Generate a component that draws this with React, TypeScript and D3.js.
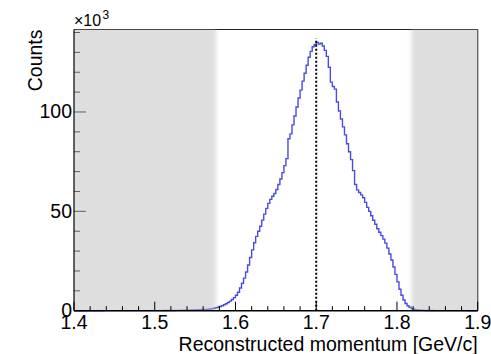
import React from "react";
import * as d3 from "d3";

// Histogram: 200 bins from 1.4 to 1.9 GeV/c, counts in units of 10^3
const xMin = 1.4;
const xMax = 1.9;
const binWidth = 0.0025;
const counts: number[] = [
  0.01,0.01,0.01,0.01,0.01,0.01,0.01,0.01,0.01,0.01,
  0.01,0.01,0.01,0.01,0.01,0.02,0.02,0.02,0.02,0.02,
  0.02,0.02,0.02,0.02,0.02,0.02,0.03,0.03,0.03,0.03,
  0.03,0.03,0.03,0.03,0.03,0.04,0.04,0.04,0.04,0.04,
  0.04,0.05,0.05,0.06,0.07,0.08,0.09,0.10,0.11,0.12,
  0.14,0.16,0.18,0.20,0.22,0.25,0.28,0.31,0.35,0.39,
  0.43,0.48,0.53,0.58,0.63,0.69,0.75,0.85,1.00,1.20,
  1.45,1.75,2.10,2.50,3.00,3.50,4.10,4.80,5.60,6.60,
  7.80,9.30,11.4,13.8,16.4,19.5,23.0,26.8,30.6,34.2,
  37.4,40.0,42.5,45.6,48.6,51.5,54.0,56.0,57.6,59.0,
  61.0,63.5,66.3,69.5,73.0,76.5,86.5,89.0,93.5,98.0,
  102.5,107.0,111.0,115.5,119.5,123.5,127.5,130.5,132.8,134.0,
  135.0,134.2,134.6,133.2,131.0,128.0,122.5,115.0,112.8,111.5,
  105.0,100.5,96.5,92.5,88.5,84.0,80.0,76.0,70.5,63.5,
  60.8,59.5,58.3,56.8,54.5,52.0,50.0,47.8,45.5,43.5,
  41.2,39.5,37.8,36.0,34.0,31.5,28.5,25.5,22.0,18.3,
  14.5,10.8,7.8,5.4,3.6,2.5,1.7,1.1,0.75,0.50,
  0.35,0.26,0.20,0.15,0.12,0.10,0.08,0.07,0.06,0.05,
  0.05,0.04,0.04,0.04,0.03,0.03,0.03,0.03,0.02,0.02,
  0.02,0.02,0.02,0.02,0.02,0.01,0.01,0.01,0.01,0.01,
];
const yMax = 141.5;
const xTickLabels = ["1.4", "1.5", "1.6", "1.7", "1.8", "1.9"];
const yTickLabels = ["0", "50", "100"];
const markerX = 1.7;
const markerTop = 137;
const shadedRegions: [number, number][] = [
  [1.4, 1.576],
  [1.818, 1.9],
];

const W = 491;
const H = 354;
const L = 74, R = 477.7, T = 29.5, B = 310.7;
const FONT = "'Liberation Sans', Arial, Helvetica, sans-serif";

export default function App() {
  const x = d3.scaleLinear().domain([xMin, xMax]).range([L, R]);
  const y = d3.scaleLinear().domain([0, yMax]).range([B, T]);

  const pts: [number, number][] = counts.map((c, i) => [xMin + i * binWidth, c]);
  pts.push([xMax, counts[counts.length - 1]]);
  const line = d3
    .line<[number, number]>()
    .x((d) => x(d[0]))
    .y((d) => y(d[1]))
    .curve(d3.curveStepAfter);

  const xMajor = xTickLabels.map(Number);
  const xMinor = d3.range(0, 26).map((i) => xMin + i * 0.02);
  const yMajor = yTickLabels.map(Number);
  const yMinor = d3.range(0, 15).map((i) => i * 10);

  return (
    <svg width={W} height={H} style={{ position: "absolute", left: 0, top: 0 }}>
      <defs>
        <clipPath id="frameClip">
          <rect x={L} y={T} width={R - L} height={B - T} />
        </clipPath>
        <filter id="soft" x="-10%" y="-10%" width="120%" height="120%">
          <feGaussianBlur stdDeviation="2" />
        </filter>
      </defs>
      <rect x={0} y={0} width={W} height={H} fill="#ffffff" />

      {/* y ticks */}
      {yMinor.map((v) => (
        <line key={"ym" + v} x1={L} x2={L + (v % 50 === 0 ? 12 : 6)} y1={y(v)} y2={y(v)} stroke="#000" strokeWidth={1} />
      ))}
      {/* top & right frame */}
      <line x1={L} x2={R} y1={T} y2={T} stroke="#222" strokeWidth={1.2} />
      <line x1={R} x2={R} y1={T} y2={B} stroke="#222" strokeWidth={1.2} />

      {/* histogram */}
      <path d={line(pts) || ""} fill="none" stroke="#4b4be0" strokeWidth={1.4} />

      {/* marker */}
      <line x1={x(markerX)} x2={x(markerX)} y1={y(0)} y2={y(markerTop)} stroke="#000" strokeWidth={2} strokeDasharray="2,2" />

      {/* shaded regions */}
      <g clipPath="url(#frameClip)">
        {shadedRegions.map(([a, b], i) => (
          <rect
            key={i}
            x={x(a) - (i === 0 ? 6 : 0)}
            y={T - 6}
            width={x(b) - x(a) + 6}
            height={B - T + 12}
            fill="#bdbdbd"
            opacity={0.5}
            filter="url(#soft)"
          />
        ))}
      </g>

      {/* left axis */}
      <line x1={L} x2={L} y1={T} y2={B} stroke="#000" strokeWidth={1.2} />
      {/* bottom axis */}
      <line x1={L} x2={R} y1={B} y2={B} stroke="#000" strokeWidth={1.5} />
      {xMinor.map((v, i) => (
        <line key={"xm" + i} x1={x(v)} x2={x(v)} y1={B} y2={B - (i % 5 === 0 ? 9 : 4.5)} stroke="#000" strokeWidth={1} />
      ))}

      {/* labels */}
      <g fontFamily={FONT} fontSize={19.5} fill="#000">
        {xMajor.map((v, i) => (
          <text key={"xl" + i} x={x(v)} y={328.5} textAnchor="middle">
            {xTickLabels[i]}
          </text>
        ))}
        {yMajor.map((v, i) => (
          <text key={"yl" + i} x={72} y={y(v) + 6.5} textAnchor="end">
            {yTickLabels[i]}
          </text>
        ))}
        <text x={R} y={350.5} textAnchor="end">
          Reconstructed momentum [GeV/c]
        </text>
        <text transform={`translate(42,${T}) rotate(-90)`} textAnchor="end">
          Counts
        </text>
        <text x={L} y={26} fontSize={16}>
          ×10
        </text>
        <text x={102.5} y={18.5} fontSize={12}>
          3
        </text>
      </g>
    </svg>
  );
}
